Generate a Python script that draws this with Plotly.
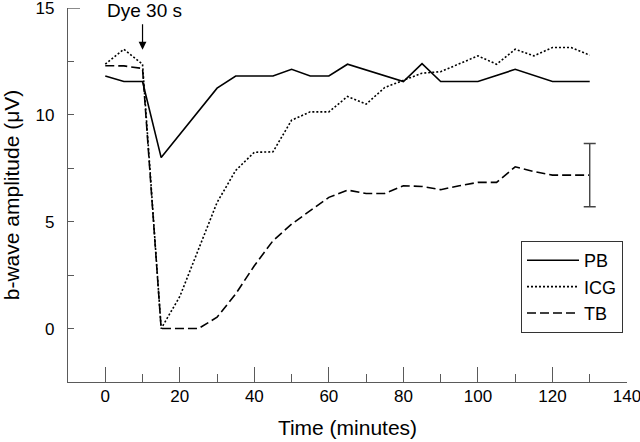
import plotly.graph_objects as go

# ---- data ----
pb_time = [0, 5, 10, 15, 30, 35, 45, 50, 55, 60, 65, 80, 85, 90, 100, 110, 120, 130]
pb_vals = [11.82, 11.56, 11.56, 8.0, 11.25, 11.82, 11.82, 12.13, 11.82, 11.82, 12.37,
           11.56, 12.4, 11.56, 11.56, 12.13, 11.56, 11.56]

icg_time = [0, 5, 10, 15, 20, 25, 30, 35, 40, 45, 50, 55, 60, 65, 70, 75, 80, 85, 90,
            95, 100, 105, 110, 115, 120, 125, 130]
icg_vals = [12.37, 13.07, 12.37, 0.0, 1.5, 3.7, 5.9, 7.4, 8.25, 8.27, 9.75, 10.14, 10.14,
            10.86, 10.5, 11.28, 11.62, 11.95, 12.02, 12.4, 12.76, 12.37, 13.07, 12.76,
            13.15, 13.15, 12.79]

tb_time = [0, 5, 10, 15, 20, 25, 30, 35, 40, 45, 50, 55, 60, 65, 70, 75, 80, 85, 90,
           95, 100, 105, 110, 115, 120, 125, 130]
tb_vals = [12.3, 12.29, 12.17, 0.0, 0.0, 0.0, 0.53, 1.62, 2.94, 4.11, 4.89, 5.51, 6.14,
           6.48, 6.32, 6.32, 6.68, 6.65, 6.5, 6.68, 6.84, 6.84, 7.57, 7.35, 7.18, 7.18, 7.18]

err_time = [130]
err_center = [7.18]
err_size = [1.48]

dye_time = 10
dye_level = 13.05
dye_label = "Dye 30 s"

x_ticks = [0, 20, 40, 60, 80, 100, 120, 140]
y_ticks = [0, 5, 10, 15]

FONT = "Liberation Sans, Arial, Helvetica, sans-serif"
AXC = "#5a5a5a"

fig = go.Figure()
fig.add_trace(go.Scatter(x=pb_time, y=pb_vals, mode="lines", name="PB",
                         line=dict(color="black", width=1.6)))
fig.add_trace(go.Scatter(x=icg_time, y=icg_vals, mode="lines", name="ICG",
                         line=dict(color="black", width=1.6, dash="2px,2px")))
fig.add_trace(go.Scatter(x=tb_time, y=tb_vals, mode="lines", name="TB",
                         line=dict(color="black", width=1.6, dash="9px,4px")))
fig.add_trace(go.Scatter(x=err_time, y=err_center, mode="markers", showlegend=False,
                         marker=dict(size=1, color="rgba(0,0,0,0)"),
                         error_y=dict(type="data", array=err_size, visible=True,
                                      color="#444", thickness=1.4, width=6),
                         hoverinfo="skip"))

fig.add_annotation(x=dye_time, y=dye_level, xref="x", yref="y", text="",
                   showarrow=True, ax=0, ay=-27, arrowhead=2, arrowsize=1.3,
                   arrowwidth=1.2, arrowcolor="black", standoff=0)
fig.add_annotation(x=dye_time, y=15, xref="x", yref="y", text=dye_label,
                   showarrow=False, xanchor="center", yanchor="top", xshift=2, yshift=10,
                   font=dict(family=FONT, size=19, color="black"))

# longer top tick on the y axis
fig.add_shape(type="line", xref="paper", yref="y", x0=0, x1=12 / 559, y0=15, y1=15,
              line=dict(color=AXC, width=1.4))

fig.update_layout(
    width=640, height=442,
    margin=dict(l=68, r=13, t=8, b=60),
    paper_bgcolor="white", plot_bgcolor="white",
    font=dict(family=FONT, size=17, color="black"),
    showlegend=True,
    legend=dict(x=(521 - 68) / 559, y=(382 - 241) / 374, xanchor="left", yanchor="top",
                bordercolor="#333", borderwidth=1, bgcolor="white",
                font=dict(family=FONT, size=18, color="black"),
                itemwidth=52, tracegroupgap=0),
    xaxis=dict(range=[-10, 140], tickvals=x_ticks, ticks="inside", ticklen=15,
               tickwidth=1.2, tickcolor=AXC, showline=True, linecolor=AXC, linewidth=1.4,
               showgrid=False, zeroline=False, automargin=False,
               ticklabeloverflow="allow", ticklabelstandoff=-2,
               minor=dict(dtick=10, tick0=0, ticks="inside", ticklen=8, tickcolor=AXC,
                          tickwidth=1.2),
               title=dict(text="Time (minutes)", font=dict(family=FONT, size=21),
                          standoff=15),
               tickfont=dict(family=FONT, size=17)),
    yaxis=dict(range=[-2.5, 15], tickvals=y_ticks, ticks="inside", ticklen=6,
               tickwidth=1.2, tickcolor=AXC, showline=True, linecolor=AXC, linewidth=1.4,
               showgrid=False, zeroline=False, automargin=False,
               ticklabeloverflow="allow", ticklabelstandoff=9,
               minor=dict(dtick=2.5, tick0=0, ticks="inside", ticklen=6, tickcolor=AXC,
                          tickwidth=1.2),
               title=dict(text="b-wave amplitude (\u03bcV)", font=dict(family=FONT, size=21),
                          standoff=14),
               tickfont=dict(family=FONT, size=17)),
)

fig.write_html("out.html", config={"displayModeBar": False},
               post_script="document.body.style.margin='0';document.body.style.overflow='hidden';")
